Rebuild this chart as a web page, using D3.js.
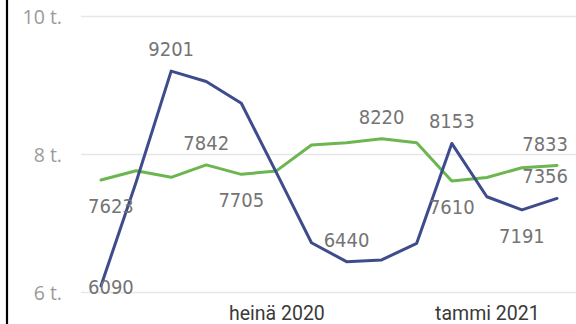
<!DOCTYPE html>
<html>
<head>
<meta charset="utf-8">
<script src="https://cdn.jsdelivr.net/npm/d3@7"></script>
<style>
  html, body { margin: 0; padding: 0; background: #fff; }
  svg { display: block; }
</style>
</head>
<body>
<svg id="chart" width="576" height="324"></svg>
<script>
// Months (Finnish), February 2020 – March 2021
const months = [
  "helmi 2020", "maalis 2020", "huhti 2020", "touko 2020", "kesä 2020", "heinä 2020",
  "elo 2020", "syys 2020", "loka 2020", "marras 2020", "joulu 2020",
  "tammi 2021", "helmi 2021", "maalis 2021"
];
const blueValues  = [6090, 7590, 9201, 9050, 8735, 7730, 6714, 6440, 6465, 6705, 8153, 7380, 7191, 7356];
const greenValues = [7623, 7758, 7662, 7842, 7705, 7755, 8130, 8164, 8220, 8164, 7610, 7660, 7801, 7833];
const yTicks = [6000, 8000, 10000];
const xTickLabels = ["heinä 2020", "tammi 2021"];

// Which points carry a value label, and on which side of the line
const blueLabels  = [{ i: 0, pos: "below" }, { i: 2, pos: "above" }, { i: 7, pos: "above" },
                     { i: 10, pos: "above" }, { i: 12, pos: "below" }, { i: 13, pos: "above" }];
const greenLabels = [{ i: 0, pos: "below" }, { i: 3, pos: "above" }, { i: 4, pos: "below" },
                     { i: 8, pos: "above" }, { i: 10, pos: "below" }, { i: 13, pos: "above" }];

const svg = d3.select("#chart");
const W = 576, H = 324;
const plot = { left: 81, right: 576, top: 16, bottom: 292 };

const x = d3.scalePoint().domain(months).range([101, 557]);
const y = d3.scaleLinear().domain([6000, 10000]).range([plot.bottom, plot.top]);

// left frame edge
svg.append("line")
  .attr("x1", 7).attr("x2", 7).attr("y1", 0).attr("y2", H)
  .attr("stroke", "#000").attr("stroke-width", 2.2);

// y axis with gridlines
const yAxis = svg.append("g")
  .attr("transform", `translate(${plot.left},0)`)
  .call(d3.axisLeft(y).tickValues(yTicks).tickSize(-(plot.right - plot.left)).tickPadding(19)
        .tickFormat(d => (d / 1000) + " t."));
yAxis.select(".domain").remove();
yAxis.selectAll(".tick line").attr("stroke", "#e6e6e6").attr("stroke-width", 1.6);
yAxis.selectAll(".tick text")
  .attr("fill", "#9a9a9a")
  .style("font-family", "'Open Sans', Roboto, sans-serif")
  .style("font-size", "19.5px")
  .attr("dy", "0.36em");

// x axis labels
const xAxis = svg.append("g")
  .attr("transform", `translate(0,${plot.bottom})`)
  .call(d3.axisBottom(x).tickValues(xTickLabels).tickSize(0).tickPadding(0));
xAxis.select(".domain").remove();
xAxis.selectAll(".tick text")
  .attr("y", 28).attr("dy", 0)
  .attr("fill", "#3a3a3a")
  .style("font-family", "Roboto, 'Open Sans', sans-serif")
  .style("font-size", "19.5px");

const line = d3.line()
  .x((d, i) => x(months[i]))
  .y(d => y(d));

const series = [
  { values: greenValues, color: "#6cb650", labels: greenLabels },
  { values: blueValues,  color: "#3f4c8c", labels: blueLabels }
];

series.forEach(s => {
  svg.append("path")
    .datum(s.values)
    .attr("d", line)
    .attr("fill", "none")
    .attr("stroke", s.color)
    .attr("stroke-width", 3)
    .attr("stroke-linejoin", "round")
    .attr("stroke-linecap", "round");
});

// value labels, kept inside the plot area
const labelLayer = svg.append("g");
series.forEach(s => {
  s.labels.forEach(l => {
    const v = s.values[l.i];
    const px = x(months[l.i]);
    const py = y(v);
    const t = labelLayer.append("text")
      .text(v)
      .attr("text-anchor", "middle")
      .attr("fill", "#747474")
      .style("font-family", "'DejaVu Sans Condensed', Roboto, sans-serif")
      .style("font-size", "20px");
    const w = t.node().getComputedTextLength();
    let cx = Math.max(88 + w / 2, Math.min(568 - w / 2, px));
    let by = l.pos === "above" ? py - 15 : py + 33;
    by = Math.min(by, 294);
    t.attr("x", cx).attr("y", by);
  });
});
</script>
</body>
</html>
